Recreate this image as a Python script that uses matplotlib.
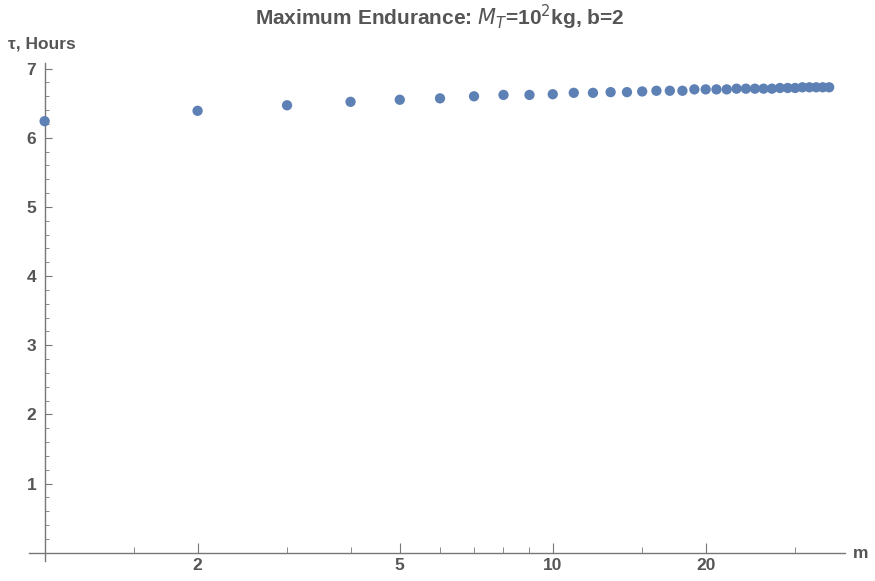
import numpy as np
import matplotlib
matplotlib.use('Agg')
import matplotlib.pyplot as plt
from matplotlib.ticker import FixedLocator, NullFormatter, FixedFormatter

m = list(range(1, 36))
tau = [6.24, 6.39, 6.47, 6.52, 6.55, 6.57, 6.60, 6.62, 6.62, 6.63,
       6.65, 6.65, 6.66, 6.66, 6.67, 6.68, 6.68, 6.68, 6.70, 6.70,
       6.70, 6.70, 6.71, 6.71, 6.71, 6.71, 6.71, 6.72, 6.72, 6.72,
       6.73, 6.73, 6.73, 6.73, 6.73]

x_major = [2, 5, 10, 20]
x_minor = [1.5, 3, 4, 6, 7, 8, 9, 15, 30]
y_major = [1, 2, 3, 4, 5, 6, 7]

gray = '#555555'
axcol = '#777777'
plt.rcParams['font.family'] = ['Liberation Sans', 'DejaVu Sans']

fig = plt.figure(figsize=(8.75, 5.81), dpi=100)
ax = fig.add_axes([0.0327, 0.0344, 0.933, 0.857])

ax.scatter(m, tau, s=55, color='#5E81B5', edgecolors='none', zorder=3, clip_on=False)

ax.set_xscale('log')
ax.set_xlim(0.93, 37.6)
ax.set_ylim(-0.12, 7.08)

for s in ['top', 'right']:
    ax.spines[s].set_visible(False)
ax.spines['left'].set_position(('data', 1))
ax.spines['bottom'].set_position(('data', 0))
for s in ['left', 'bottom']:
    ax.spines[s].set_color(axcol)
    ax.spines[s].set_linewidth(1.0)

ax.xaxis.set_major_locator(FixedLocator(x_major))
ax.xaxis.set_major_formatter(FixedFormatter([str(v) for v in x_major]))
ax.xaxis.set_minor_locator(FixedLocator(x_minor))
ax.xaxis.set_minor_formatter(NullFormatter())
ax.yaxis.set_major_locator(FixedLocator(y_major))
ax.yaxis.set_minor_locator(FixedLocator([v / 5 for v in range(1, 35) if v % 5]))

ax.tick_params(axis='x', which='major', direction='in', length=7, color=axcol,
               labelsize=12.5, labelcolor=gray, pad=4)
ax.tick_params(axis='x', which='minor', direction='in', length=4, color=axcol)
ax.tick_params(axis='y', which='major', direction='in', length=5, color=axcol,
               labelsize=12.5, labelcolor=gray, pad=6)
ax.tick_params(axis='y', which='minor', direction='in', length=3, color=axcol)
for lab in ax.get_xticklabels() + ax.get_yticklabels():
    lab.set_fontweight('bold')

fig.text(0.503, 0.97, 'Maximum Endurance: $M_T$=10$^2$kg, b=2', ha='center', va='center',
         fontsize=15, fontweight='bold', color=gray)
fig.text(0.009, 0.925, '\u03c4, Hours', ha='left', va='center',
         fontsize=12.5, fontweight='bold', color=gray)
fig.text(0.983, 0.048, 'm', ha='center', va='center',
         fontsize=12.5, fontweight='bold', color=gray)

plt.savefig('out.png', dpi=100)
plt.close()
